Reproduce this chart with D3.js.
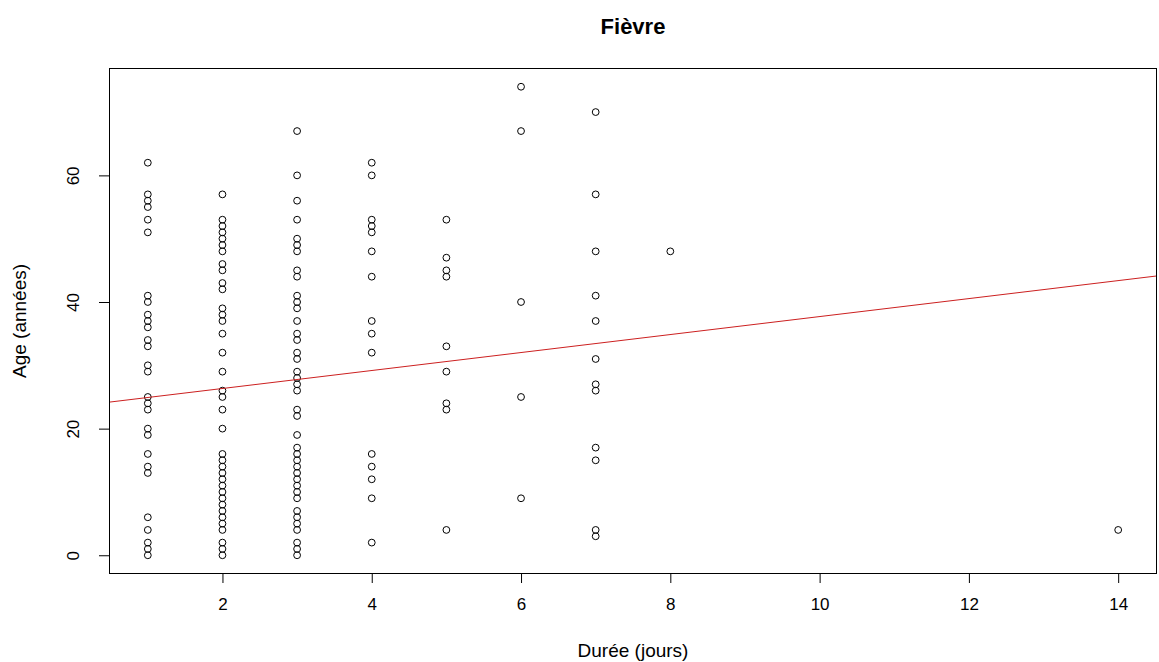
<!DOCTYPE html>
<html>
<head>
<meta charset="utf-8">
<script src="https://cdn.jsdelivr.net/npm/d3@7"></script>
<style>
  body { margin: 0; background: #fff; }
  svg { display: block; font-family: "Liberation Sans", Arial, sans-serif; }
</style>
</head>
<body>
<script>
// durée (jours) -> âges observés
const duree1 = [62,57,56,55,53,51,41,40,38,37,36,34,33,30,29,25,24,23,20,19,16,14,13,6,4,2,1,0];
const duree2 = [57,53,52,51,50,49,48,46,45,43,42,39,38,37,35,32,29,26,25,23,20,16,15,14,13,12,11,10,9,8,7,6,5,4,2,1,0];
const duree3 = [67,60,56,53,50,49,48,45,44,41,40,39,37,35,34,32,31,29,28,27,26,23,22,19,17,16,15,14,13,12,11,10,9,7,6,5,4,2,1,0];
const duree4 = [62,60,53,52,51,48,44,37,35,32,16,14,12,9,2];
const duree5 = [53,47,45,44,33,29,24,23,4];
const duree6 = [74,67,40,25,9];
const duree7 = [70,57,48,41,37,31,27,26,17,15,4,3];
const duree8 = [48];
const duree14 = [4];

// droite de régression
const intercept = 23.5;
const slope = 1.42;

const xTicks = [2,4,6,8,10,12,14];
const yTicks = [0,20,40,60];

const groups = [[1,duree1],[2,duree2],[3,duree3],[4,duree4],[5,duree5],[6,duree6],[7,duree7],[8,duree8],[14,duree14]];
const points = [];
groups.forEach(([d, ages]) => ages.forEach(a => points.push({x: d, y: a})));

const w = 1159, h = 662;
const margin = {top: 68, right: 2, bottom: 88, left: 109};

const svg = d3.select("body").append("svg")
    .attr("width", w)
    .attr("height", h);

// R style: range extended by 4%
const xExt = d3.extent(points, d => d.x), yExt = d3.extent(points, d => d.y);
const xPad = (xExt[1] - xExt[0]) * 0.04, yPad = (yExt[1] - yExt[0]) * 0.04;

const x = d3.scaleLinear()
    .domain([xExt[0] - xPad, xExt[1] + xPad])
    .range([margin.left, w - margin.right]);
const y = d3.scaleLinear()
    .domain([yExt[0] - yPad, yExt[1] + yPad])
    .range([h - margin.bottom, margin.top]);

const plot = svg.append("g");

plot.append("clipPath").attr("id", "clip")
  .append("rect")
    .attr("x", margin.left).attr("y", margin.top)
    .attr("width", w - margin.left - margin.right)
    .attr("height", h - margin.top - margin.bottom);

plot.selectAll(".pt")
    .data(points)
    .enter().append("circle")
    .attr("class", "pt")
    .attr("cx", d => x(d.x))
    .attr("cy", d => y(d.y))
    .attr("r", 3.4)
    .attr("fill", "none")
    .attr("stroke", "#000")
    .attr("stroke-width", 1);

const xd = x.domain();
plot.append("line")
    .attr("clip-path", "url(#clip)")
    .attr("x1", x(xd[0])).attr("y1", y(intercept + slope * xd[0]))
    .attr("x2", x(xd[1])).attr("y2", y(intercept + slope * xd[1]))
    .attr("stroke", "#cc2020")
    .attr("stroke-width", 1);

svg.append("rect")
    .attr("x", margin.left + 0.5).attr("y", margin.top + 0.5)
    .attr("width", w - margin.left - margin.right - 1)
    .attr("height", h - margin.top - margin.bottom - 1)
    .attr("fill", "none")
    .attr("stroke", "#000");

const xAxis = svg.append("g")
    .attr("transform", "translate(0," + (h - margin.bottom) + ")")
    .call(d3.axisBottom(x).tickValues(xTicks).tickSize(9).tickPadding(15));
const yAxis = svg.append("g")
    .attr("transform", "translate(" + margin.left + ",0)")
    .call(d3.axisLeft(y).tickValues(yTicks).tickSize(10));

[xAxis, yAxis].forEach(a => {
  a.select(".domain").remove();
  a.selectAll("line").attr("stroke", "#000");
  a.selectAll("text").attr("font-size", "17px").attr("fill", "#000")
      .attr("font-family", "Liberation Sans, Arial, sans-serif");
});

yAxis.selectAll("text")
    .attr("x", null).attr("dy", null)
    .attr("text-anchor", "middle")
    .attr("transform", "translate(-36,0) rotate(-90)")
    .attr("dy", "0.35em");

svg.append("text")
    .attr("x", (margin.left + w - margin.right) / 2)
    .attr("y", 34)
    .attr("text-anchor", "middle")
    .attr("font-size", "22px")
    .attr("font-weight", "bold")
    .text("Fièvre");

svg.append("text")
    .attr("x", (margin.left + w - margin.right) / 2)
    .attr("y", 657)
    .attr("text-anchor", "middle")
    .attr("font-size", "19px")
    .text("Durée (jours)");

svg.append("text")
    .attr("transform", "translate(26," + ((margin.top + h - margin.bottom) / 2) + ") rotate(-90)")
    .attr("text-anchor", "middle")
    .attr("font-size", "19px")
    .text("Age (années)");
</script>
</body>
</html>
